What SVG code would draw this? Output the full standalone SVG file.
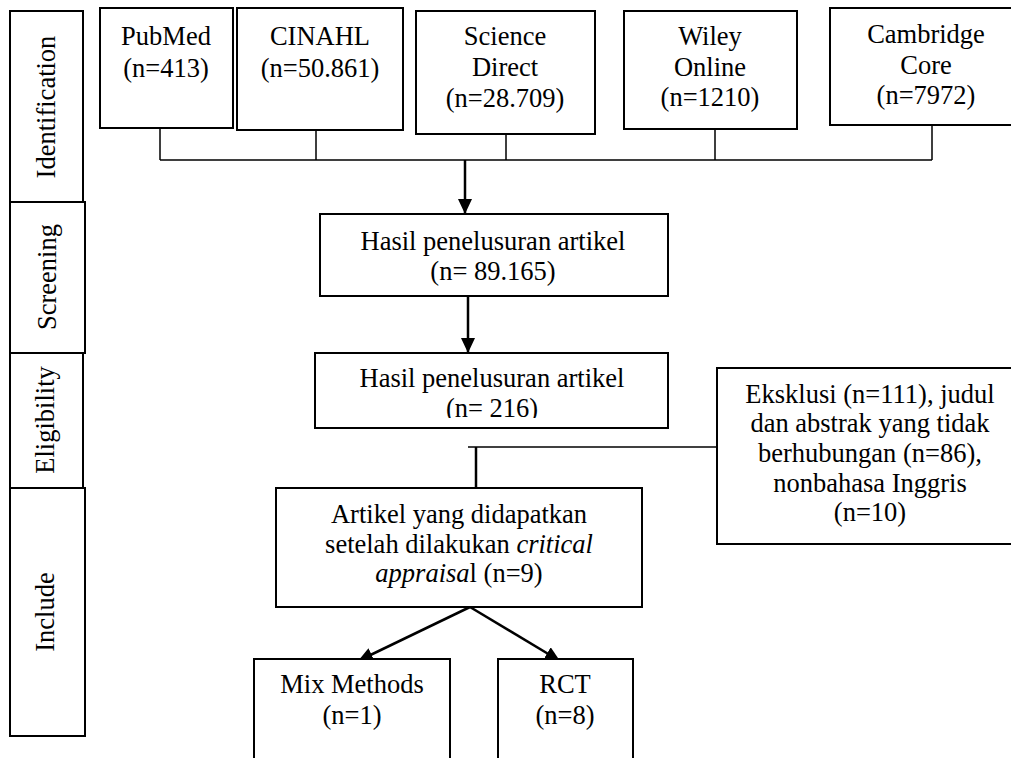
<svg xmlns="http://www.w3.org/2000/svg" width="1011" height="758" viewBox="0 0 1011 758">
<style>
.box{fill:#fff;stroke:#000;stroke-width:2}
.t{font-family:'Liberation Serif','Times New Roman',Times,serif;font-size:26.5px;fill:#000;text-anchor:middle}
.ln{fill:none;stroke:#000;stroke-width:1.5}
.ar{fill:none;stroke:#000;stroke-width:2.5}
</style>
<defs>
<marker id="ah" markerWidth="15" markerHeight="14" refX="15" refY="7" orient="auto" markerUnits="userSpaceOnUse">
<path d="M0,0 L15,7 L0,14 Z" fill="#000"/>
</marker>
<clipPath id="clipElig"><rect x="316" y="354" width="351" height="64"/></clipPath>
</defs>
<rect width="1011" height="758" fill="#fff"/>
<g font-family="Liberation Serif, serif">
<g id="phase-identification"><rect class="box" x="10" y="11" width="73" height="191"/><text class="t" transform="translate(55,107) rotate(-90)">Identification</text></g>
<g id="phase-screening"><rect class="box" x="10" y="202" width="75" height="151"/><text class="t" transform="translate(56,277) rotate(-90)">Screening</text></g>
<g id="phase-eligibility"><rect class="box" x="10" y="353" width="73" height="135"/><text class="t" transform="translate(54,420) rotate(-90)">Eligibility</text></g>
<g id="phase-include"><rect class="box" x="10" y="488" width="75" height="248"/><text class="t" transform="translate(54,612) rotate(-90)">Include</text></g>

<g id="connectors">
<path class="ln" d="M160,128 V160 M316,130 V160 M506,134 V160 M715,129 V160 M932,125 V160 M160,160 H932"/>
<line class="ar" x1="465" y1="160" x2="465" y2="214" marker-end="url(#ah)"/>
<line class="ar" x1="468" y1="296" x2="468" y2="353" marker-end="url(#ah)"/>
<path class="ln" d="M468,447 H717"/>
<line class="ar" x1="476" y1="447" x2="476" y2="504" marker-end="url(#ah)"/>
<line class="ar" x1="470" y1="607" x2="358" y2="661" marker-end="url(#ah)"/>
<line class="ar" x1="470" y1="607" x2="560" y2="661" marker-end="url(#ah)"/>
</g>

<g id="pubmed"><rect class="box" x="100" y="8" width="133" height="120"/><text class="t" x="166" y="45">PubMed</text><text class="t" x="166" y="77">(n=413)</text></g>
<g id="cinahl"><rect class="box" x="237" y="8" width="166" height="122"/><text class="t" x="320" y="45">CINAHL</text><text class="t" x="320" y="77">(n=50.861)</text></g>
<g id="sciencedirect"><rect class="box" x="416" y="11" width="179" height="123"/><text class="t" x="505" y="45">Science</text><text class="t" x="505" y="76">Direct</text><text class="t" x="505" y="107">(n=28.709)</text></g>
<g id="wiley"><rect class="box" x="624" y="11" width="173" height="118"/><text class="t" x="710" y="45">Wiley</text><text class="t" x="710" y="76">Online</text><text class="t" x="710" y="106">(n=1210)</text></g>
<g id="cambridge"><rect class="box" x="830" y="8" width="190" height="117"/><text class="t" x="926" y="43">Cambridge</text><text class="t" x="926" y="74">Core</text><text class="t" x="926" y="104">(n=7972)</text></g>

<g id="screening"><rect class="box" x="320" y="214" width="348" height="82"/><text class="t" x="493" y="250">Hasil penelusuran artikel</text><text class="t" x="493" y="280">(n= 89.165)</text></g>
<g id="eligibility"><rect class="box" x="315" y="353" width="353" height="75"/><g clip-path="url(#clipElig)"><text class="t" x="492" y="387">Hasil penelusuran artikel</text><text class="t" x="492" y="417">(n= 216)</text></g></g>
<g id="exclusion"><rect class="box" x="717" y="368" width="300" height="176"/><text class="t" x="870" y="403">Eksklusi (n=111), judul</text><text class="t" x="870" y="432">dan abstrak yang tidak</text><text class="t" x="870" y="462">berhubungan (n=86),</text><text class="t" x="870" y="492">nonbahasa Inggris</text><text class="t" x="870" y="521">(n=10)</text></g>
<g id="included"><rect class="box" x="276" y="488" width="366" height="119"/><text class="t" x="459" y="523">Artikel yang didapatkan</text><text class="t" x="459" y="553">setelah dilakukan <tspan font-style="italic">critical</tspan></text><text class="t" x="459" y="582"><tspan font-style="italic">appraisa</tspan>l (n=9)</text></g>
<g id="mixmethods"><rect class="box" x="254" y="659" width="196" height="110"/><text class="t" x="352" y="693">Mix Methods</text><text class="t" x="352" y="724">(n=1)</text></g>
<g id="rct"><rect class="box" x="498" y="659" width="135" height="110"/><text class="t" x="565" y="693">RCT</text><text class="t" x="565" y="724">(n=8)</text></g>
</g>
</svg>
